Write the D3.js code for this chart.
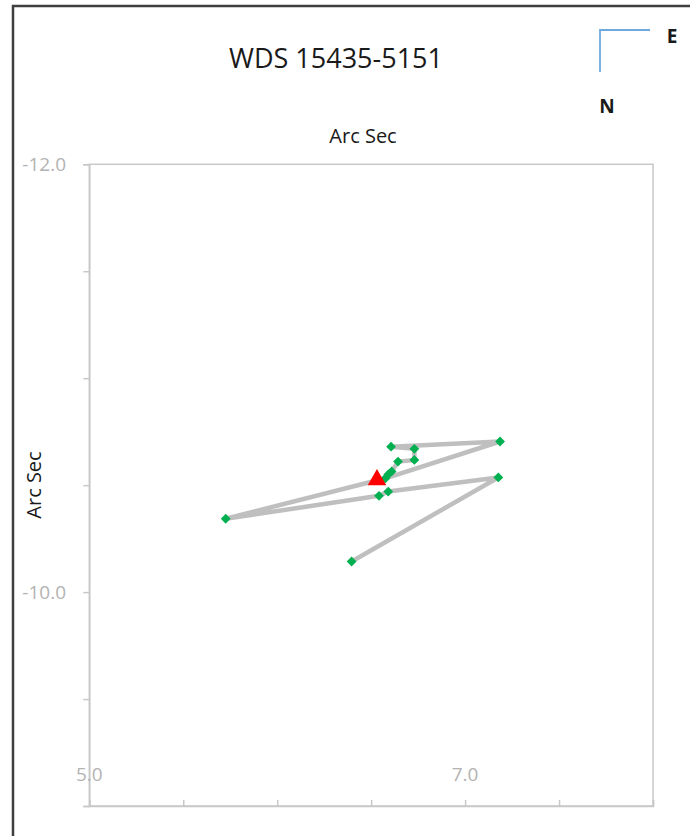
<!DOCTYPE html>
<html>
<head>
<meta charset="utf-8">
<script src="https://cdn.jsdelivr.net/npm/d3@7/dist/d3.min.js"></script>
<style>
  html, body { margin: 0; padding: 0; background: #ffffff; }
  svg { display: block; }
  text { font-family: "Open Sans", "Noto Sans", sans-serif; }
</style>
</head>
<body>
<svg id="chart" width="690" height="836"></svg>
<script>
// Observed relative positions (arc seconds), in measurement order
const obsX = [6.396, 7.177, 6.591, 6.542, 5.726, 6.576, 7.186, 6.606, 6.730, 6.730, 6.643, 6.609, 6.591];
const obsY = [-10.143, -10.536, -10.470, -10.450, -10.343, -10.532, -10.704, -10.680, -10.670, -10.618, -10.610, -10.564, -10.550];

// Predicted position
const predX = [6.531];
const predY = [-10.525];

// Axis ticks and labelled values
const xTicks = [5.0, 5.5, 6.0, 6.5, 7.0, 7.5, 8.0];
const xLabels = [5.0, 7.0];
const yTicks = [-12.0, -11.5, -11.0, -10.5, -10.0, -9.5, -9.0];
const yLabels = [-12.0, -10.0];

const titleText = "WDS 15435-5151";
const axisTitle = "Arc Sec";

const svg = d3.select("#chart");

const plot = { left: 89.3, right: 653, top: 164.3, bottom: 806 };

const x = d3.scaleLinear().domain([5, 8]).range([plot.left, plot.right]);
const y = d3.scaleLinear().domain([-12, -9]).range([plot.top, plot.bottom]);

const axisColor = "#c8c8c8";
const labelColor = "#b3b3b3";

// Outer chart frame
svg.append("rect")
  .attr("x", 13).attr("y", 6)
  .attr("width", 720).attr("height", 880)
  .attr("fill", "#ffffff")
  .attr("stroke", "#3f3f3f")
  .attr("stroke-width", 2.5);

// Plot-area border
svg.append("rect")
  .attr("x", plot.left).attr("y", plot.top)
  .attr("width", plot.right - plot.left)
  .attr("height", plot.bottom - plot.top)
  .attr("fill", "none")
  .attr("stroke", axisColor)
  .attr("stroke-width", 1.5);

// Vertical axis: ticks outward on the left
const yAxis = d3.axisLeft(y)
  .tickValues(yTicks)
  .tickSize(6)
  .tickFormat(() => "");
const gy = svg.append("g")
  .attr("transform", `translate(${plot.left},0)`)
  .call(yAxis);
gy.select(".domain").attr("stroke", axisColor).attr("stroke-width", 1.5);
gy.selectAll(".tick line").attr("stroke", axisColor).attr("stroke-width", 1.5);

svg.append("g").selectAll("text")
  .data(yLabels)
  .join("text")
  .attr("x", 66)
  .attr("y", d => y(d))
  .attr("dy", "0.36em")
  .attr("text-anchor", "end")
  .attr("fill", labelColor)
  .attr("font-size", 19)
  .text(d => d3.format(".1f")(d).replace("−", "-"));

// Horizontal axis: ticks pointing up into the plot
const xAxis = d3.axisBottom(x)
  .tickValues(xTicks)
  .tickSize(-6)
  .tickFormat(() => "");
const gx = svg.append("g")
  .attr("transform", `translate(0,${plot.bottom})`)
  .call(xAxis);
gx.select(".domain").attr("stroke", axisColor).attr("stroke-width", 1.5);
gx.selectAll(".tick line").attr("stroke", axisColor).attr("stroke-width", 1.5);

svg.append("g").selectAll("text")
  .data(xLabels)
  .join("text")
  .attr("x", d => x(d))
  .attr("y", plot.bottom - 25)
  .attr("text-anchor", "middle")
  .attr("fill", labelColor)
  .attr("font-size", 19)
  .text(d => d3.format(".1f")(d));

// Titles
svg.append("text")
  .attr("x", 336).attr("y", 68)
  .attr("text-anchor", "middle")
  .attr("fill", "#1a1a1a")
  .attr("font-size", 27)
  .text(titleText);

svg.append("text")
  .attr("x", 363).attr("y", 143)
  .attr("text-anchor", "middle")
  .attr("fill", "#1a1a1a")
  .attr("font-size", 20)
  .text(axisTitle);

svg.append("text")
  .attr("transform", "translate(41,485) rotate(-90)")
  .attr("text-anchor", "middle")
  .attr("fill", "#1a1a1a")
  .attr("font-size", 20)
  .text(axisTitle);

// Orientation marker (E / N)
svg.append("path")
  .attr("d", "M650,30 H600 V72")
  .attr("fill", "none")
  .attr("stroke", "#6fa8dc")
  .attr("stroke-width", 1.8);
svg.append("text")
  .attr("x", 672).attr("y", 43)
  .attr("text-anchor", "middle")
  .attr("font-weight", "bold")
  .attr("font-size", 19)
  .attr("fill", "#1a1a1a")
  .text("E");
svg.append("text")
  .attr("x", 607).attr("y", 113)
  .attr("text-anchor", "middle")
  .attr("font-weight", "bold")
  .attr("font-size", 19)
  .attr("fill", "#1a1a1a")
  .text("N");

// Observation track
const obs = obsX.map((v, i) => ({ x: v, y: obsY[i] }));
const line = d3.line().x(d => x(d.x)).y(d => y(d.y));
svg.append("path")
  .datum(obs)
  .attr("d", line)
  .attr("fill", "none")
  .attr("stroke", "#bfbfbf")
  .attr("stroke-width", 4.5)
  .attr("stroke-linejoin", "round");

// Observation markers (green diamonds)
svg.append("g").selectAll("path")
  .data(obs)
  .join("path")
  .attr("d", d3.symbol(d3.symbolSquare, 48))
  .attr("transform", d => `translate(${x(d.x)},${y(d.y)}) rotate(45)`)
  .attr("fill", "#00b050");

// Predicted position (red triangle)
const pred = predX.map((v, i) => ({ x: v, y: predY[i] }));
svg.append("g").selectAll("path")
  .data(pred)
  .join("path")
  .attr("d", d3.symbol(d3.symbolTriangle, 150))
  .attr("transform", d => `translate(${x(d.x)},${y(d.y)})`)
  .attr("fill", "#ff0000");
</script>
</body>
</html>
